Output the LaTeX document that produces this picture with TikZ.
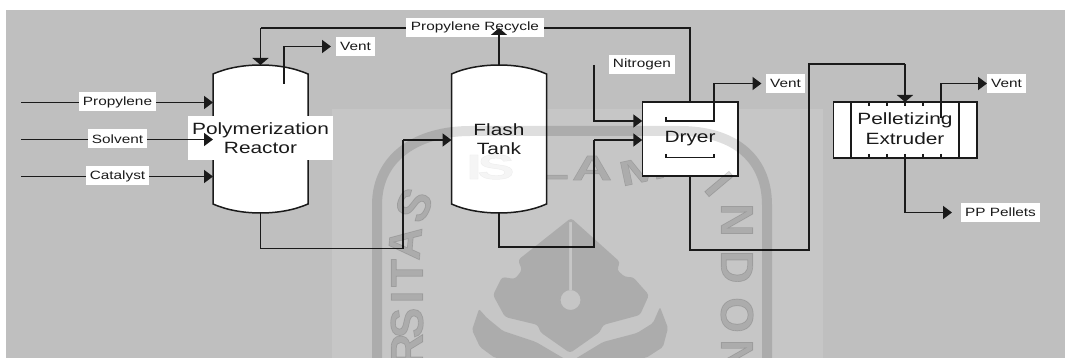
\documentclass[tikz,border=0pt]{standalone}
\usepackage{fontspec}
\setmainfont[FakeStretch=1.28]{Liberation Sans}
\newfontfamily\wmfont[BoldFeatures={FakeBold=1.5}]{Liberation Sans}
\newfontfamily\wmwide[BoldFeatures={FakeStretch=1.6,FakeBold=1.5}]{Liberation Sans}
\usetikzlibrary{arrows.meta}
\definecolor{bgrey}{HTML}{BFBFBF}
\definecolor{lgrey}{HTML}{C6C6C6}
\definecolor{ink}{HTML}{1A1A1A}
\tikzset{
  line/.style={draw=ink,line width=1.5pt,line join=miter},
  flowh/.style={line,-{Triangle[length=9pt,width=13pt,fill=ink]}},
  flowv/.style={line,-{Triangle[length=7pt,width=16pt,fill=ink]}},
  vesselbody/.style={line,fill=white},
  anchorbox/.style={rectangle,inner sep=0pt,outer sep=0pt},
  smalllabel/.style={anchorbox,fill=white,text=ink,minimum height=19pt,
    font=\fontsize{12}{14}\selectfont},
  biglabel/.style={anchorbox,text=ink,align=center,
    font=\fontsize{16.3}{19}\selectfont},
  unitbox/.style={anchorbox,line,fill=white},
  wmletter/.style={anchorbox,text=black,text opacity=.13,
    font=\fontsize{46}{46}\wmfont\bfseries},
  wmtop/.style={anchorbox,text=black,text opacity=.13,
    font=\fontsize{35}{35}\wmwide\bfseries}
}
\begin{document}
\begin{tikzpicture}[x=1pt,y=-1pt]
\useasboundingbox (0,0) rectangle (1065,358);
\fill[bgrey] (6,10) rectangle (1065,358);
\fill[lgrey] (332,109) rectangle (823,358);

% top watermark letters that lie behind the vessels
\foreach \ch/\wx/\wy/\wr [count=\wi] in {L/552/167/0,A/592/168/0,M/642/170/12}
  \node[wmtop,rotate=\wr] (wt\wi) at (\wx,\wy) {\ch};

% reactor
\node[anchorbox,minimum width=95pt,minimum height=148pt] (R) at (260.5,139) {};
\draw[vesselbody] (213,74) .. controls (240,62) and (281,62) .. (308,74)
  -- (308,204) .. controls (281,216) and (240,216) .. (213,204) -- cycle;
\node[biglabel,fill=white,minimum width=145pt,minimum height=44pt] (Rtext) at (260.5,138) {Polymerization\\Reactor};

% flash tank
\node[anchorbox,minimum width=95pt,minimum height=148pt] (F) at (499,139) {};
\draw[vesselbody] (451.5,74) .. controls (478,62) and (520,62) .. (546.5,74)
  -- (546.5,204) .. controls (520,216) and (478,216) .. (451.5,204) -- cycle;
\node[biglabel] (Ftext) at (499,139) {Flash\\Tank};

% dryer
\node[unitbox,minimum width=95.5pt,minimum height=74pt] (D) at (690,139) {};
\node[biglabel] (Dtext) at (690,139) {Dryer};
\coordinate (dtl) at (666,117);
\coordinate (dtr) at (714,121);
\draw[line] (dtl) |- (dtr) -- (714,117);
\draw[line] (666,154) |- (714,157.7) -- (714,154);

% extruder
\node[unitbox,minimum width=143.5pt,minimum height=56pt] (E) at (905,130) {};
\draw[line] (851,102) -- (851,158) (959,102) -- (959,158);
\foreach \tx in {869,887,905,923,941} \draw[line] (\tx,102) -- (\tx,106) (\tx,154) -- (\tx,158);
\node[biglabel,font=\fontsize{16.3}{20}\selectfont] (Etext) at (905,129) {Pelletizing\\Extruder};

% free ends
\coordinate (f1) at (21,102.5);
\coordinate (f2) at (21,139.5);
\coordinate (f3) at (21,176.5);
\coordinate (rv) at (284,84);
\coordinate (n2) at (594,65);
\coordinate (ev) at (941,118);

% labels under the lines that cross them
\draw[line] (D.north) -- (690,28) -- (260.5,28);
\node[smalllabel,minimum width=138pt] (Lrec) at (475,27.5) {Propylene Recycle};
\draw[flowv] (260.5,28) -- (R.north);

\draw[flowh] (f1) -- (R.west |- f1);
\draw[flowh] (f2) -- (R.west |- f2);
\draw[flowh] (f3) -- (R.west |- f3);
\node[smalllabel,minimum width=77pt] (Lpro) at (117.5,102) {Propylene};
\node[smalllabel,minimum width=59pt] (Lsol) at (117.5,139) {Solvent};
\node[smalllabel,minimum width=63pt] (Lcat) at (117.5,176) {Catalyst};

\node[smalllabel,minimum width=39pt] (V1) at (355.5,46.5) {Vent};
\draw[flowh] (rv) |- ([xshift=-5pt]V1.west);

\draw[line] (R.south) -- (260.5,248.5) -- (403,248.5) -- (403,140);
\draw[flowh] (403,140) -- (F.west |- 403,140);

\draw[flowv] (F.north) -- (499,28);

\draw[line] (F.south) -- (499,247) -- (594,247) -- (594,140);
\draw[flowh] (594,140) -- (D.west |- 594,140);

\node[smalllabel,minimum width=66pt] (Ln) at (642,64.5) {Nitrogen};
\draw[flowh] (n2) |- (D.west |- 594,121);

\node[smalllabel,minimum width=39pt] (V2) at (785.5,83.5) {Vent};
\draw[flowh] (dtr) |- ([xshift=-4.5pt]V2.west);

\draw[line] (D.south) -- (690,250) -- (809,250) -- (809,64) -- (905,64);
\draw[flowv] (905,64) -- (E.north);

\node[smalllabel,minimum width=39pt] (V3) at (1006.5,83.5) {Vent};
\draw[flowh] (ev) |- (V3.west);

\node[smalllabel,minimum width=79pt] (Lpp) at (1000.5,212.5) {PP Pellets};
\draw[flowh] (E.south) |- ([xshift=-9pt]Lpp.west);

% watermark, over everything
\begin{scope}[opacity=.13]
  \draw[black,line width=10pt] (377,358) -- (377,205)
    .. controls (377,155) and (420,131) .. (470,131) -- (680,131)
    .. controls (730,131) and (767,155) .. (767,205) -- (767,358);
  \fill[black,even odd rule,rounded corners=3pt]
    (571,218) -- (620,262) -- (617,270) -- (625,277) -- (633,277) -- (649,295)
    -- (640,315) -- (603,325) -- (600,332) -- (570,353) -- (540,332) -- (538,325)
    -- (505,317) -- (493,295) -- (502,277) -- (515,279) -- (522,270) -- (518,260) -- cycle
    [sharp corners] (569,222) rectangle (572,290)
    (570.5,300) circle[radius=10];
  \fill[black,rounded corners=2pt]
    (479,309) -- (472,330) -- (480,347) -- (495,358) -- (646,358) -- (663,347) -- (668,328) -- (660,307)
    -- (653,323) -- (637,333) -- (603,342) -- (570,362) -- (536,342) -- (503,331) -- (487,318) -- cycle;
\end{scope}
\foreach \ch/\wx/\wy/\wr [count=\wi] in {R/407/350/90,S/407/323/90,I/407/297/90,T/407/273/90,A/405/243/85,S/414/205/65,
    I/719/184/-50,N/737/220/-90,D/737/267/-90,O/737/315/-90,N/737/356/-90}
  \node[wmletter,rotate=\wr] (wm\wi) at (\wx,\wy) {\ch};
\foreach \ch/\wx [count=\wi] in {I/474,S/496}
  \node[wmtop,text opacity=.04] (ws\wi) at (\wx,167) {\ch};
\end{tikzpicture}
\end{document}
